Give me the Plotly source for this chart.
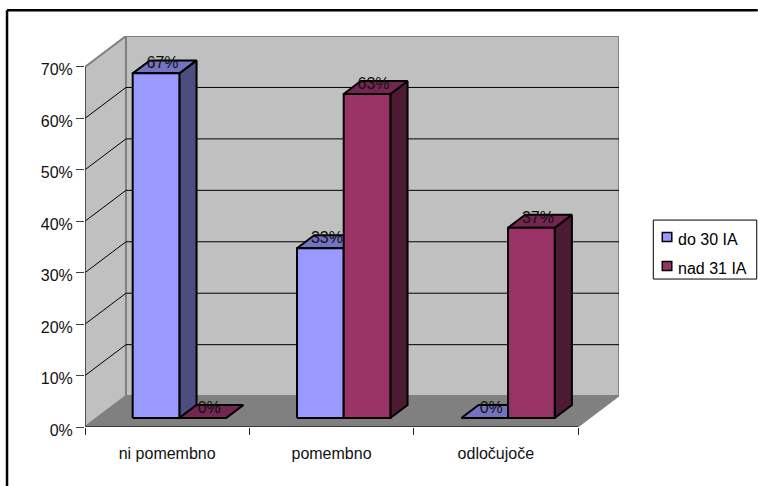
import plotly.graph_objects as go

# Chart data
categories = ["ni pomembno", "pomembno", "odločujoče"]
series_names = ["do 30 IA", "nad 31 IA"]
do_30_ia = [67, 33, 0]
nad_31_ia = [0, 63, 37]
value_ticks = [0, 10, 20, 30, 40, 50, 60, 70]
value_tick_labels = ["0%", "10%", "20%", "30%", "40%", "50%", "60%", "70%"]

# Colours: front, top and side faces of each series
BLUE = ("#9999FF", "#7373BF", "#4D4D80")
CRIMSON = ("#993366", "#732650", "#4D1A33")
WALL, FLOOR, EDGE, AXIS = "#C0C0C0", "#808080", "#808080", "#404040"
FONT = "Liberation Sans"
FONT_SIZE = 16

# Frame geometry in pixels
W, H = 758, 486
LEFT, BASE = 85, 427
CAT_PX, PCT_PX = 164.4, 5.146
DEPTH_X_PX, DEPTH_Y_PX = 41, 30.9
TOP_VALUE = 70

# Oblique projection: depth shifts a point along both axes
DX, DY = DEPTH_X_PX / CAT_PX, DEPTH_Y_PX / PCT_PX
RIGHT_PX = LEFT + 3 * CAT_PX + DEPTH_X_PX
TOP_PX = BASE - (TOP_VALUE * PCT_PX + DEPTH_Y_PX)

# Bar placement inside a category, in category widths and depth fractions
BAR_START, BAR_WIDTH = 0.2178, 0.284
D0, D1 = 0.29, 0.71


def project(c, d, v):
    return c + d * DX, v + d * DY


def poly(points, fill, line_color="black", line_width=2):
    pts = [project(*p) for p in points] + [project(*points[0])]
    return go.Scatter(
        x=[p[0] for p in pts], y=[p[1] for p in pts],
        mode="lines", fill="toself", fillcolor=fill,
        line=dict(color=line_color, width=line_width),
        hoverinfo="skip", showlegend=False, cliponaxis=False,
    )


def path(points, color, width):
    pts = [project(*p) for p in points]
    return go.Scatter(
        x=[p[0] for p in pts], y=[p[1] for p in pts],
        mode="lines", line=dict(color=color, width=width),
        hoverinfo="skip", showlegend=False, cliponaxis=False,
    )


fig = go.Figure()
n = len(categories)

# Walls and floor
fig.add_trace(poly([(0, 0, 0), (0, 1, 0), (0, 1, TOP_VALUE), (0, 0, TOP_VALUE)], WALL, EDGE, 2))
fig.add_trace(poly([(0, 1, 0), (n, 1, 0), (n, 1, TOP_VALUE), (0, 1, TOP_VALUE)], WALL, EDGE, 2))
fig.add_trace(poly([(0, 0, 0), (n, 0, 0), (n, 1, 0), (0, 1, 0)], FLOOR, EDGE, 1))

# Gridlines run along the back wall and down the side wall
for v in value_ticks[1:-1]:
    fig.add_trace(path([(n, 1, v), (0, 1, v), (0, 0, v)], "black", 1))

# Front axis lines
fig.add_trace(path([(0, 0, 0), (n, 0, 0)], "#202020", 1.5))
fig.add_trace(path([(0, 0, 0), (0, 0, TOP_VALUE)], AXIS, 1.5))


def add_bar(cat, idx, value, colors):
    x0 = cat + BAR_START + idx * BAR_WIDTH
    x1 = x0 + BAR_WIDTH
    fig.add_trace(poly([(x1, D0, 0), (x1, D1, 0), (x1, D1, value), (x1, D0, value)], colors[2]))
    fig.add_trace(poly([(x0, D0, value), (x1, D0, value), (x1, D1, value), (x0, D1, value)], colors[1]))
    fig.add_trace(poly([(x0, D0, 0), (x1, D0, 0), (x1, D0, value), (x0, D0, value)], colors[0]))
    lx, ly = project((x0 + x1) / 2, 0.45, value + 0.8)
    fig.add_trace(go.Scatter(
        x=[lx], y=[ly], mode="text", text=[f"{value}%"], textposition="middle center",
        textfont=dict(family=FONT, size=FONT_SIZE, color="#111111"),
        hoverinfo="skip", showlegend=False, cliponaxis=False,
    ))


for c in range(n):
    add_bar(c, 0, do_30_ia[c], BLUE)
    add_bar(c, 1, nad_31_ia[c], CRIMSON)


def px_x(x):
    return (x - LEFT) / (RIGHT_PX - LEFT)


def px_y(y):
    return (BASE - y) / (BASE - TOP_PX)


def paper_rect(x0, y0, x1, y1, **kw):
    return dict(type="rect", xref="paper", yref="paper",
                x0=px_x(x0), x1=px_x(x1), y0=px_y(y0), y1=px_y(y1), **kw)


def paper_line(x0, y0, x1, y1):
    return dict(type="line", xref="paper", yref="paper",
                x0=px_x(x0), x1=px_x(x1), y0=px_y(y0), y1=px_y(y1),
                line=dict(color="black", width=2.5))


# Legend box with swatches, and the chart-area frame along the top and left
shapes = [
    paper_rect(653.5, 220, 757, 279, line=dict(color="black", width=1), fillcolor="white"),
    paper_rect(662.5, 232.5, 672, 241.5, line=dict(color="black", width=1.5), fillcolor=BLUE[0]),
    paper_rect(662.5, 261.5, 672, 270.5, line=dict(color="black", width=1.5), fillcolor=CRIMSON[0]),
    paper_line(7, 10, W, 10),
    paper_line(7, 10, 7, H),
]
annotations = [
    dict(xref="paper", yref="paper", x=px_x(676), y=px_y(y), text=name, showarrow=False,
         xanchor="left", yanchor="middle",
         font=dict(family=FONT, size=FONT_SIZE, color="black"))
    for name, y in zip(series_names, [239, 268])
]

fig.update_layout(
    width=W, height=H,
    margin=dict(l=LEFT, r=W - RIGHT_PX, t=TOP_PX, b=H - BASE, pad=0, autoexpand=False),
    paper_bgcolor="white", plot_bgcolor="white",
    showlegend=False,
    shapes=shapes, annotations=annotations,
    font=dict(family=FONT, size=FONT_SIZE, color="#111111"),
    xaxis=dict(
        range=[0, (RIGHT_PX - LEFT) / CAT_PX],
        tickmode="array",
        tickvals=[i + 0.5 for i in range(n)], ticktext=categories,
        ticks="outside", ticklen=12, tickcolor="rgba(0,0,0,0)",
        minor=dict(tickmode="array", tickvals=list(range(n + 1)), ticks="outside",
                   ticklen=7, tickcolor="#202020", tickwidth=1, showgrid=False),
        showgrid=False, zeroline=False, showline=False,
    ),
    yaxis=dict(
        range=[0, (BASE - TOP_PX) / PCT_PX],
        tickmode="array", tickvals=value_ticks, ticktext=value_tick_labels,
        ticks="outside", ticklen=8, tickcolor=AXIS, tickwidth=1,
        ticklabelshift=3,
        showgrid=False, zeroline=False, showline=False,
    ),
)

fig.write_html("out.html")
